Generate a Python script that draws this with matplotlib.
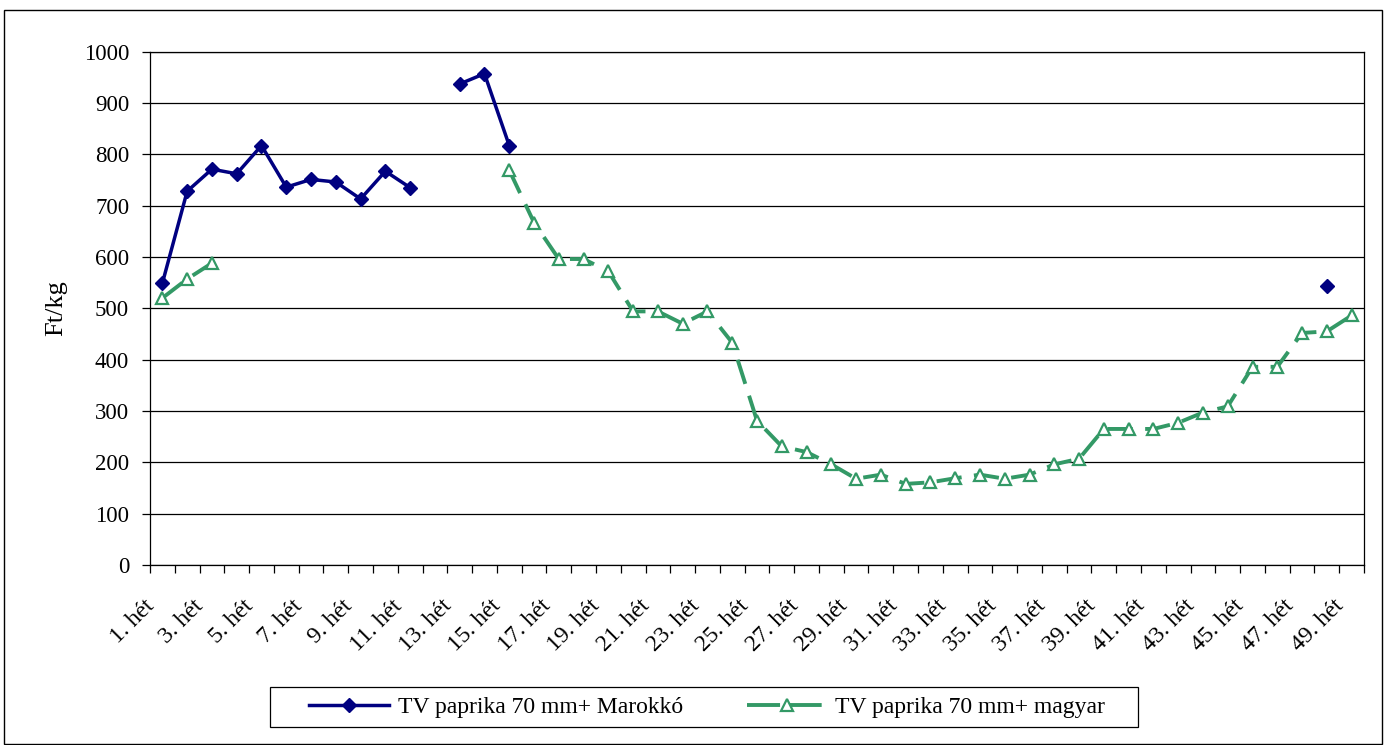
import numpy as np
import matplotlib
matplotlib.use("Agg")
import matplotlib.pyplot as plt
from matplotlib.patches import Rectangle
from matplotlib.transforms import ScaledTranslation
from matplotlib.lines import Line2D

nan = np.nan
weeks = list(range(1, 50))
week_labels = [f"{w}. hét" for w in weeks]

marokko = [549, 728, 771, 762, 817, 736, 751, 746, 713, 767, 735, nan, 937, 957, 817,
           nan, nan, nan, nan, nan, nan, nan, nan, nan, nan, nan, nan, nan, nan, nan,
           nan, nan, nan, nan, nan, nan, nan, nan, nan, nan, nan, nan, nan, nan, nan,
           nan, nan, 543, nan]
magyar = [520, 557, 588, nan, nan, nan, nan, nan, nan, nan, nan, nan, nan, nan, 769,
          667, 596, 596, 572, 494, 494, 470, 494, 433, 281, 231, 220, 196, 168, 176,
          158, 161, 169, 176, 168, 176, 196, 207, 265, 265, 265, 277, 297, 309, 386,
          386, 452, 455, 486]

series_names = ["TV paprika 70 mm+ Marokkó", "TV paprika 70 mm+ magyar"]
y_label = "Ft/kg"
y_ticks = list(range(0, 1001, 100))

W, H = 1387, 745
fig = plt.figure(figsize=(W / 100, H / 100), dpi=100)
plt.rcParams['font.family'] = ['Liberation Serif', 'DejaVu Serif']

left, right, top, bottom = 150, 1364, 51.6, 565
ax = fig.add_axes([left / W, 1 - bottom / H, (right - left) / W, (bottom - top) / H])

navy = "#000080"
green = "#339966"

ax.plot(weeks, marokko, color=navy, lw=2.5, marker="D", ms=7.2, mfc=navy, mec=navy,
        mew=1, zorder=3, label=series_names[0])
ax.plot(weeks, magyar, color=green, lw=2.8, dashes=(6.5, 3.2), marker="^", ms=9.2,
        mfc="white", mec=green, mew=1.6, zorder=4, label=series_names[1])

ax.set_xlim(0.5, 49.5)
ax.set_ylim(0, 1000)
ax.set_yticks(y_ticks)
ax.yaxis.grid(True, color="black", lw=0.9)
ax.set_axisbelow(True)
for s in ax.spines.values():
    s.set_color("black")
    s.set_linewidth(0.9)

ax.tick_params(axis="y", direction="out", length=6, width=0.9, pad=9, labelsize=16.5)
ax.set_xticks(weeks[::2])
ax.set_xticklabels(week_labels[::2])
ax.set_xticks(np.arange(0.5, 50.0, 1.0), minor=True)
ax.tick_params(axis="x", which="major", length=0, pad=22, labelsize=17,
               labelrotation=45)
ax.tick_params(axis="x", which="minor", direction="out", length=5.5, width=0.9)
off = ScaledTranslation(-19 / 100, 0, fig.dpi_scale_trans)
for lbl in ax.get_xticklabels():
    lbl.set_ha("right")
    lbl.set_va("top")
    lbl.set_rotation_mode("anchor")
    lbl.set_transform(lbl.get_transform() + off)

ax.set_ylabel(y_label, fontsize=19)
ax.yaxis.set_label_coords((67 - left) / (right - left), 0.5)

# legend
handles = [
    Line2D([], [], color=navy, lw=2.5, marker="D", ms=7.5, mfc=navy, mec=navy),
    Line2D([], [], color=green, lw=2.8, dashes=(8.5, 2.2), marker="^", ms=8.5,
           mfc="white", mec=green, mew=1.6),
]
fig.legend(handles, series_names, loc="center", bbox_to_anchor=(707 / W, 1 - 707 / H),
           ncol=2, frameon=False, fontsize=17, handlelength=3.4, handletextpad=0.35,
           columnspacing=2.7, borderpad=0.1)
fig.add_artist(Rectangle((270 / W, 1 - 727 / H), (1138 - 270) / W, 40 / H,
                         transform=fig.transFigure, fill=False, ec="black", lw=0.9))
fig.add_artist(Rectangle((4 / W, 1 - 744 / H), (1382 - 4) / W, (744 - 10) / H,
                         transform=fig.transFigure, fill=False, ec="black", lw=1.0))

fig.savefig("out.png", dpi=100)
